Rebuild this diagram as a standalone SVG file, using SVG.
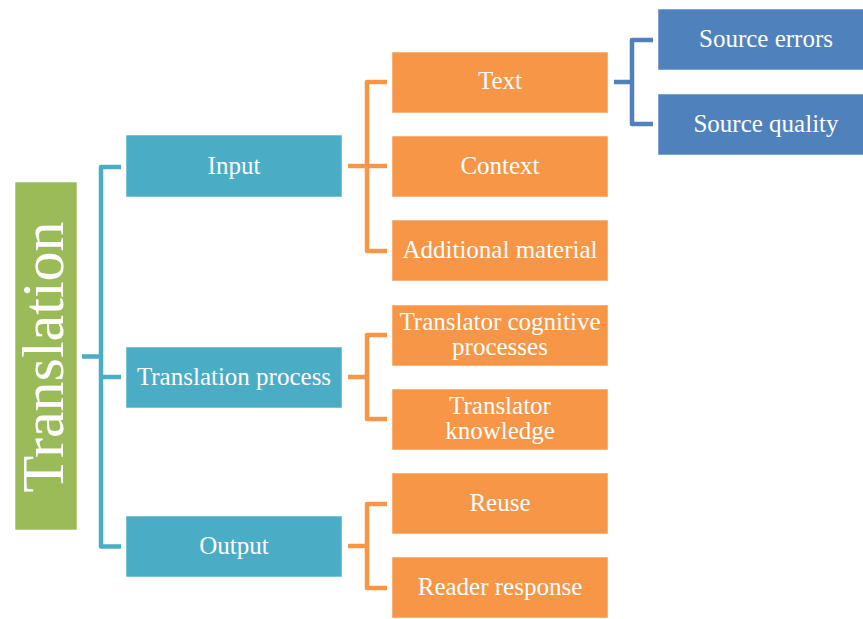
<svg xmlns="http://www.w3.org/2000/svg" width="863" height="619" viewBox="0 0 863 619">
  <style>
    .box { stroke: #ffffff; stroke-opacity: 0.55; stroke-width: 1; }
    .root { fill: #9BBB59; }
    .l1 { fill: #4BACC6; }
    .l2 { fill: #F79646; }
    .l3 { fill: #4F81BD; }
    .lbl { font-family: "Liberation Serif", "DejaVu Serif", serif; font-size: 25px; fill: #ffffff; text-anchor: middle; }
    .big { font-family: "Liberation Serif", "DejaVu Serif", serif; font-size: 60px; fill: #ffffff; text-anchor: middle; }
    .link { fill: none; stroke-width: 4.5; stroke-linejoin: round; }
    .c1 { stroke: #4BACC6; }
    .c2 { stroke: #F79646; }
    .c3 { stroke: #4F81BD; }
  </style>
  <rect width="863" height="619" fill="#ffffff"/>

  <!-- bracket connectors: stub from the parent, spine, and one tick per child -->
  <g id="connectors">
    <path class="link c1" d="M82 356.5 H101 M121 167 H101 V546.5 H121 M101 377 H121"/>
    <path class="link c2" d="M348 166 H387 M387 82 H367 V251 H387"/>
    <path class="link c2" d="M348 377 H367 M387 335 H367 V419 H387"/>
    <path class="link c2" d="M348 546 H367 M387 504 H367 V588 H387"/>
    <path class="link c3" d="M614 82 H632 M653 40 H632 V124 H653"/>
  </g>

  <g id="translation">
    <rect class="box root" x="15" y="182" width="62" height="348"/>
    <text class="big" transform="translate(63,357) rotate(-90)">Translation</text>
  </g>

  <g id="input">
    <rect class="box l1" x="126" y="135" width="216" height="62"/>
    <text class="lbl" x="234" y="174">Input</text>
  </g>
  <g id="translation-process">
    <rect class="box l1" x="126" y="347" width="216" height="61"/>
    <text class="lbl" x="234" y="385">Translation process</text>
  </g>
  <g id="output">
    <rect class="box l1" x="126" y="516" width="216" height="61"/>
    <text class="lbl" x="234" y="554">Output</text>
  </g>

  <g id="text">
    <rect class="box l2" x="392" y="52" width="216" height="61"/>
    <text class="lbl" x="500" y="89">Text</text>
  </g>
  <g id="context">
    <rect class="box l2" x="392" y="136" width="216" height="61"/>
    <text class="lbl" x="500" y="174">Context</text>
  </g>
  <g id="additional-material">
    <rect class="box l2" x="392" y="220" width="216" height="61"/>
    <text class="lbl" x="500" y="258">Additional material</text>
  </g>
  <g id="cognitive-processes">
    <rect class="box l2" x="392" y="305" width="216" height="61"/>
    <text class="lbl" x="500" y="330">Translator cognitive</text>
    <text class="lbl" x="500" y="355">processes</text>
  </g>
  <g id="translator-knowledge">
    <rect class="box l2" x="392" y="389" width="216" height="61"/>
    <text class="lbl" x="500" y="414">Translator</text>
    <text class="lbl" x="500" y="439">knowledge</text>
  </g>
  <g id="reuse">
    <rect class="box l2" x="392" y="473" width="216" height="61"/>
    <text class="lbl" x="500" y="511">Reuse</text>
  </g>
  <g id="reader-response">
    <rect class="box l2" x="392" y="557" width="216" height="61"/>
    <text class="lbl" x="500" y="595">Reader response</text>
  </g>

  <g id="source-errors">
    <rect class="box l3" x="658" y="9" width="216" height="61"/>
    <text class="lbl" x="766" y="47">Source errors</text>
  </g>
  <g id="source-quality">
    <rect class="box l3" x="658" y="94" width="216" height="61"/>
    <text class="lbl" x="766" y="132">Source quality</text>
  </g>
</svg>
